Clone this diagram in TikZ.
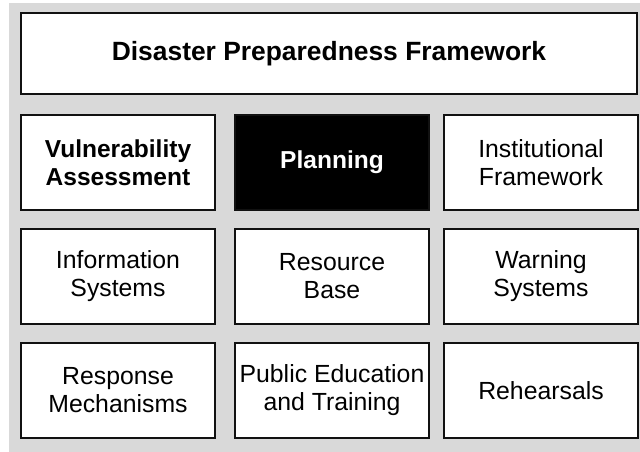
\documentclass[tikz,border=0pt]{standalone}
\usepackage{fontspec}
\setmainfont{Liberation Sans}
\definecolor{bggray}{HTML}{D9D9D9}
\definecolor{edge}{HTML}{111111}
\tikzset{
  cell/.style={draw=edge, line width=1.5pt, fill=white, minimum width=145.5pt, minimum height=71.25pt,
    align=center, font=\fontsize{18.6}{21}\selectfont, inner sep=0pt},
  cellbold/.style={cell, font=\fontsize{18.4}{21}\selectfont\bfseries},
  cellblack/.style={cellbold, fill=black, text=white},
  titlebox/.style={draw=edge, line width=1.5pt, fill=white, minimum width=462pt, minimum height=60.75pt,
    align=center, font=\fontsize{19.8}{22}\selectfont\bfseries, inner sep=0pt}
}
\begin{document}
\begin{tikzpicture}[x=0.75pt,y=-0.75pt]
\useasboundingbox (0,0) rectangle (640,452);
\fill[bggray] (9,3) rectangle (640,452);
\node[titlebox] (title) at (329,53.5) {Disaster Preparedness Framework};
\node[cellbold] (va) at (118,162.5) {Vulnerability\\Assessment};
\node[cellblack] (pl) at (332,162.5) {Planning};
\node[cell] (if) at (541,162.5) {Institutional\\Framework};
\node[cell] (is) at (118,276.5) {Information\\Systems};
\node[cell] (rb) at (332,276.5) {Resource\\Base};
\node[cell] (ws) at (541,276.5) {Warning\\Systems};
\node[cell] (rm) at (118,390.5) {Response\\Mechanisms};
\node[cell] (pe) at (332,390.5) {Public Education\\and Training};
\node[cell] (rh) at (541,390.5) {Rehearsals};
\end{tikzpicture}
\end{document}
